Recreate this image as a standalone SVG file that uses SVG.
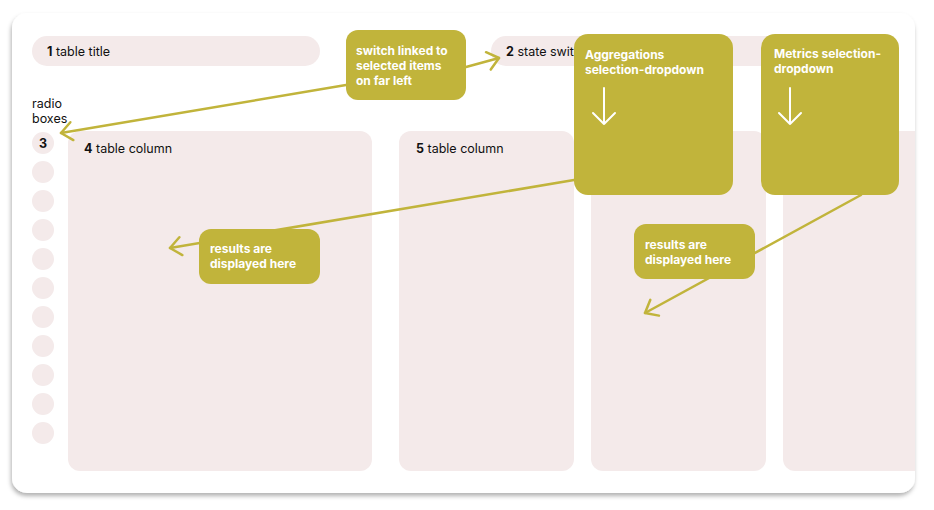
<svg xmlns="http://www.w3.org/2000/svg" width="934" height="510" viewBox="0 0 934 510">
<style>
.pill{fill:#F4EAEA}
.lbl{font-family:Inter,"Liberation Sans",sans-serif;font-size:12.5px;fill:#111}
.b{font-weight:700}
.box{fill:#C1B43B}
.bt{font-family:Inter,"Liberation Sans",sans-serif;font-size:12px;font-weight:700;fill:#fff}
.con{stroke:#C1B43B;stroke-width:2.5;fill:none;stroke-linecap:round}
.wa{stroke:#fff;stroke-width:2;fill:none;stroke-linecap:round;stroke-linejoin:round}
</style>
<defs>
<filter id="sh" x="-5%" y="-5%" width="110%" height="115%">
<feDropShadow dx="-1" dy="3" stdDeviation="2" flood-color="#000" flood-opacity="0.3"/>
</filter>
<marker id="ah" markerUnits="userSpaceOnUse" viewBox="-15 -15 30 30" markerWidth="30" markerHeight="30" refX="0" refY="0" orient="auto">
<path d="M-11,-9 L0,0 L-11,9" fill="none" stroke="#C1B43B" stroke-width="2.5" stroke-linecap="round" stroke-linejoin="round"/>
</marker>
<clipPath id="cardclip"><rect x="12" y="13" width="903" height="480" rx="15"/></clipPath>
</defs>
<rect x="0" y="0" width="934" height="510" fill="#fff"/>
<g id="card">
<rect x="12" y="13" width="903" height="480" rx="15" fill="#fff" filter="url(#sh)"/>
</g>
<g id="title">
<rect class="pill" x="32" y="36" width="288" height="30" rx="15"/>
<text class="lbl" x="47" y="56"><tspan class="b">1</tspan> table title</text>
</g>
<g id="state-switch">
<rect class="pill" x="491" y="36" width="390" height="30" rx="15"/>
<text class="lbl" x="506" y="56"><tspan class="b">2</tspan> state switch</text>
</g>
<g id="radio-label">
<text class="lbl" x="32" y="108">radio</text>
<text class="lbl" x="32" y="123">boxes</text>
</g>
<g id="radio-boxes">
<circle class="pill" cx="43" cy="143" r="11"/>
<text class="lbl b" x="43" y="148" text-anchor="middle">3</text>
<circle class="pill" cx="43" cy="172" r="11"/>
<circle class="pill" cx="43" cy="201" r="11"/>
<circle class="pill" cx="43" cy="230" r="11"/>
<circle class="pill" cx="43" cy="259" r="11"/>
<circle class="pill" cx="43" cy="288" r="11"/>
<circle class="pill" cx="43" cy="317" r="11"/>
<circle class="pill" cx="43" cy="346" r="11"/>
<circle class="pill" cx="43" cy="375" r="11"/>
<circle class="pill" cx="43" cy="404" r="11"/>
<circle class="pill" cx="43" cy="433" r="11"/>
</g>
<g id="column4">
<rect class="pill" x="68" y="131" width="304" height="340" rx="12"/>
<text class="lbl" x="84" y="153"><tspan class="b">4</tspan> table column</text>
</g>
<g id="column5">
<rect class="pill" x="399" y="131" width="175" height="340" rx="12"/>
<text class="lbl" x="416" y="153"><tspan class="b">5</tspan> table column</text>
</g>
<g id="column6">
<rect class="pill" x="591" y="131" width="175" height="340" rx="12"/>
</g>
<g id="column7" clip-path="url(#cardclip)">
<rect class="pill" x="783" y="131" width="175" height="340" rx="12"/>
</g>
<g id="switch-note">
<rect class="box" x="346" y="30" width="120" height="70" rx="12"/>
<text class="bt" x="356" y="55">switch linked to</text>
<text class="bt" x="356" y="70">selected items</text>
<text class="bt" x="356" y="85">on far left</text>
</g>
<g id="aggregations">
<rect class="box" x="574" y="34" width="159" height="161" rx="14"/>
<text class="bt" x="585" y="59">Aggregations</text>
<text class="bt" x="585" y="74">selection-dropdown</text>
<path class="wa" d="M604,88 V124 M593,113 L604,124 L615,113"/>
</g>
<g id="metrics">
<rect class="box" x="761" y="34" width="138" height="161" rx="14"/>
<text class="bt" x="774" y="58">Metrics selection-</text>
<text class="bt" x="774" y="73">dropdown</text>
<path class="wa" d="M790,88 V124 M779,113 L790,124 L801,113"/>
</g>
<g id="connectors">
<line class="con" x1="466" y1="67" x2="499" y2="58" marker-end="url(#ah)"/>
<line class="con" x1="346" y1="85" x2="61" y2="133" marker-end="url(#ah)"/>
<line class="con" x1="574" y1="180" x2="170" y2="248" marker-end="url(#ah)"/>
<line class="con" x1="861" y1="195" x2="645" y2="313" marker-end="url(#ah)"/>
</g>
<g id="results1">
<rect class="box" x="199" y="229" width="121" height="55" rx="12"/>
<text class="bt" x="210" y="253">results are</text>
<text class="bt" x="210" y="268">displayed here</text>
</g>
<g id="results2">
<rect class="box" x="634" y="224" width="121" height="55" rx="12"/>
<text class="bt" x="645" y="249">results are</text>
<text class="bt" x="645" y="264">displayed here</text>
</g>
</svg>
